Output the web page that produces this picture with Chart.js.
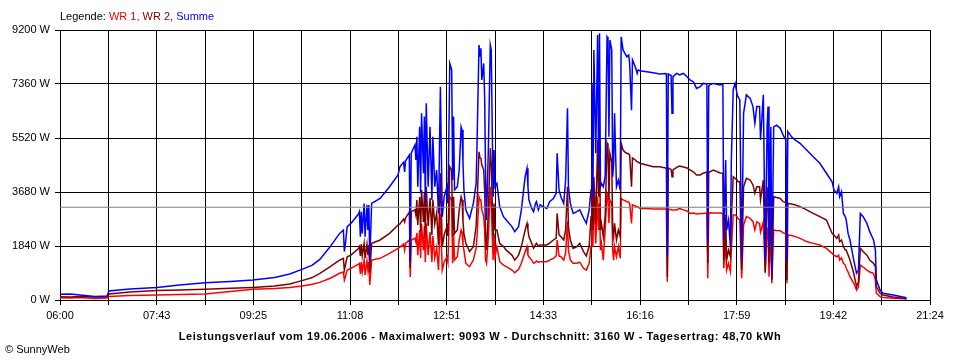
<!DOCTYPE html>
<html>
<head>
<meta charset="utf-8">
<script src="https://cdn.jsdelivr.net/npm/chart.js@4.4.0/dist/chart.umd.min.js"></script>
<style>
html,body{margin:0;padding:0;background:#fff;}
#wrap{position:relative;width:960px;height:360px;overflow:hidden;font-family:"Liberation Sans",Arial,sans-serif;color:#000;}
#c{position:absolute;left:0;top:0;}
#legend{position:absolute;left:60px;top:9px;font-size:11px;line-height:14px;white-space:nowrap;}
#footer{position:absolute;left:0;width:960px;top:329px;text-align:center;font-weight:bold;font-size:11px;line-height:14px;white-space:nowrap;letter-spacing:0.55px;}
#copy{position:absolute;left:5px;top:342px;font-size:11px;line-height:14px;white-space:nowrap;}
</style>
</head>
<body>
<div id="wrap">
<canvas id="c" width="960" height="360"></canvas>
<div id="legend">Legende: <span style="color:#ff0000">WR 1,</span> <span style="color:#800000">WR 2,</span> <span style="color:#0000ff">Summe</span></div>
<div id="footer">Leistungsverlauf vom 19.06.2006 - Maximalwert: 9093 W - Durchschnitt: 3160 W - Tagesertrag: 48,70 kWh</div>
<div id="copy">© SunnyWeb</div>
</div>
<script>
const tickLabels = ['06:00','07:43','09:25','11:08','12:51','14:33','16:16','17:59','19:42','21:24'];
const yTickValues = [0,1840,3680,5520,7360,9200];
const average = 3160;

const times = [
'06:00','06:11','06:21','06:37','06:50','06:52','07:14','07:43','08:07','08:34',
'09:01','09:25','09:48','10:04','10:17','10:28','10:36','10:47','10:57','11:01',
'11:02','11:03','11:05','11:09','11:17','11:18','11:19','11:20','11:21','11:23',
'11:24','11:26','11:27','11:28','11:29','11:31','11:40','11:50','11:59','12:01',
'12:05','12:06','12:07','12:11','12:12','12:13','12:17','12:18','12:19','12:20',
'12:22','12:23','12:24','12:26','12:27','12:28','12:29','12:31','12:33','12:35',
'12:36','12:38','12:40','12:42','12:44','12:46','12:48','12:51','12:52','12:54',
'12:56','12:57','12:58','12:59','13:02','13:04','13:06','13:07','13:08','13:09',
'13:11','13:15','13:19','13:22','13:23','13:25','13:26','13:27','13:28','13:30',
'13:31','13:32','13:33','13:35','13:37','13:38','13:40','13:41','13:42','13:44',
'13:47','13:51','13:54','14:00','14:03','14:07','14:10','14:14','14:16','14:17',
'14:18','14:21','14:23','14:25','14:26','14:28','14:30','14:33','14:37','14:40',
'14:44','14:47','14:48','14:50','14:52','14:55','14:57','14:59','15:00','15:02',
'15:05','15:09','15:12','15:16','15:19','15:22','15:24','15:25','15:26','15:27',
'15:29','15:31','15:32','15:33','15:34','15:35','15:37','15:39','15:41','15:42',
'15:43','15:44','15:46','15:47','15:48','15:49','15:51','15:53','15:55','15:56',
'15:58','16:00','16:02','16:04','16:05','16:07','16:08','16:11','16:13','16:14',
'16:16','16:23','16:30','16:37','16:43','16:44','16:45','16:46','16:49','16:50',
'16:51','16:55','16:58','17:02','17:06','17:09','17:13','17:16','17:20','17:23',
'17:27','17:28','17:29','17:30','17:34','17:41','17:44','17:45','17:47','17:48',
'17:50','17:52','17:53','17:55','17:57','17:59','18:00','18:02','18:04','18:06',
'18:09','18:13','18:16','18:18','18:20','18:23','18:24','18:27','18:29','18:31',
'18:32','18:33','18:35','18:36','18:38','18:41','18:45','18:48','18:51','18:52',
'18:53','18:57','19:01','19:06','19:13','19:20','19:27','19:34','19:40','19:42',
'19:45','19:47','19:48','19:50','19:52','19:54','19:55','19:57','19:59','20:03',
'20:06','20:08','20:10','20:13','20:17','20:20','20:24','20:26','20:27','20:31',
'20:34','20:45','20:59'
];

const summe = [
195,205,170,120,135,305,375,430,510,590,
630,680,765,885,1045,1190,1385,1820,2270,2385,
1650,1875,2500,2610,2930,3010,2160,3010,2270,3290,
2160,3240,2385,3240,1360,3290,3460,3860,4260,4540,
4700,4360,4740,4940,1295,5000,5280,4770,5560,3860,
5900,3635,6360,4320,6250,3290,6700,3860,5900,3410,
5560,3860,4430,2950,7270,2840,3520,3860,3290,8060,
7840,4090,6250,3750,3860,4430,5900,5790,4660,3750,
3070,2780,3290,3975,5450,8690,8290,8575,7500,8060,
6930,4200,2725,5220,8690,8520,3520,5110,3860,3975,
3180,2840,2725,2500,2330,2500,3070,4200,4490,3860,
3410,3120,3010,3290,3350,3070,3240,3180,3120,3350,
3460,3635,5000,3750,3520,3290,4090,6530,3860,3290,
2950,3010,3070,2795,2610,3070,3750,7380,3520,8520,
5000,9030,4540,9090,3860,3975,3860,4200,8970,8915,
5560,8860,8520,4200,4660,6360,3860,4090,3750,8970,
8520,8405,8290,8350,8060,6470,8180,7950,7720,7840,
7815,7780,7745,7700,7720,7700,1475,7700,7650,6360,
7610,7720,7670,7720,7610,7500,7430,7210,7270,7380,
7360,1930,7290,7330,7380,7330,7360,2045,4770,2385,
2725,1820,4770,7180,7380,7040,6930,6815,1360,6360,
6990,6870,6590,6020,6590,6590,5450,6990,1360,5900,
6590,1820,5900,795,5900,5960,5850,5620,5450,1360,
5740,5560,5450,5340,5110,4880,4660,4320,4030,3750,
3635,3860,3520,3690,2950,2840,2725,2270,2045,1360,
910,1020,2950,2840,2610,2330,2045,1700,680,340,
230,170,80
];

const wr2 = [
110,100,120,100,100,205,275,320,340,365,
400,430,475,545,660,765,910,1135,1360,1415,
1020,1160,1475,1530,1755,1820,1500,1905,1500,1930,
1430,1905,1530,1875,955,1930,2045,2270,2555,2590,
2760,2660,2795,3000,1090,3010,3070,2895,3410,2555,
3510,2315,3750,2660,3645,2160,3860,2520,3475,2215,
3410,2590,2965,1875,4320,1820,2215,2500,2180,4540,
4430,2160,3520,2270,2385,3070,3520,3410,2660,2270,
1930,1650,1820,2520,3305,5050,4840,4830,4600,4430,
3750,2160,1700,3070,5170,4660,2160,3290,2385,2385,
1930,1820,1700,1530,1360,1530,1820,2385,2610,2385,
2160,1930,1760,1875,1930,1840,1875,1875,1875,1940,
2045,2110,2950,2215,2160,2045,2385,3860,2500,2045,
1760,1820,1930,1650,1500,1820,2840,4540,2385,4200,
2610,5450,3520,5450,2385,2610,2160,2840,5340,5220,
3410,5000,4700,2385,2160,2610,2045,2385,2160,5340,
5110,5040,5000,4975,4940,3860,4840,4770,4710,4700,
4660,4600,4540,4540,4500,4500,795,4500,4450,4200,
4430,4520,4565,4530,4500,4430,4360,4260,4260,4320,
4360,1250,4330,4370,4430,4330,4320,1360,2895,1360,
1700,1475,2725,4200,4145,4090,4030,4030,1020,3860,
4145,4090,3920,3635,3860,3860,3410,4090,965,3520,
3860,1250,3520,680,3520,3490,3460,3350,3320,680,
3290,3270,3240,3180,3070,2950,2840,2725,2270,2215,
2100,2215,1990,2045,1820,1700,1700,1530,1360,910,
455,625,1760,1650,1530,1360,1250,1135,455,230,
170,100,45
];

const wr1 = [
80,70,85,50,70,120,155,170,185,205,
290,365,390,425,475,540,600,740,910,955,
680,785,1020,1075,1225,1250,885,1290,955,1360,
850,1330,1020,1290,510,1360,1420,1590,1760,1805,
1910,1700,1930,2045,785,2045,2100,1975,2285,1530,
2385,1430,2590,1700,2520,1290,2610,1530,2315,1290,
2180,1430,1770,1020,2950,1020,1290,1475,1290,3520,
3410,1250,2285,1360,1475,2045,2385,2315,1875,1700,
1250,1135,1360,1770,2215,3520,3410,3410,3070,2840,
2385,1360,1250,2160,3860,3290,1360,2270,1475,1820,
1305,1190,1135,1020,930,1045,1250,1645,1820,1530,
1475,1360,1250,1290,1330,1290,1305,1305,1305,1360,
1420,1500,2045,1500,1475,1360,1600,2670,1700,1360,
1250,1250,1290,1080,1020,1250,1820,3635,1820,3520,
1930,3520,2385,3290,1700,1930,1360,2385,3635,3520,
2625,3410,3300,1700,1360,1820,1475,1820,1420,3460,
3410,3385,3350,3340,3290,2610,3240,3205,3180,3170,
3120,3120,3100,3100,3100,3085,625,3085,3080,3070,
3070,3070,3120,3070,3035,2950,2965,2930,2950,2950,
2965,740,2965,2975,2965,2965,2950,1080,2045,1020,
1250,965,1700,2895,2895,2840,2780,2725,740,2555,
2840,2780,2670,2385,2660,2610,2315,2660,910,2385,
2455,795,2385,570,2385,2370,2360,2285,2250,570,
2215,2200,2160,2100,1990,1930,1875,1760,1590,1530,
1475,1530,1360,1430,1250,1190,1080,955,795,570,
340,445,1190,1125,1020,955,910,680,230,115,
85,60,45
];

// minutes after 06:00
function toMin(s){ const p = s.split(':').map(Number); return p[0]*60 + p[1] - 360; }
const startMin = toMin(tickLabels[0]);
const endMin = toMin(tickLabels[tickLabels.length-1]);
const gridCount = (tickLabels.length - 1) * 2;
const gridMinutes = [];
for (let i = 0; i <= gridCount; i++) gridMinutes.push(startMin + (endMin - startMin) * i / gridCount);

function series(vals){ return times.map((t,i) => ({x: toMin(t), y: vals[i]})); }

const font = {family: '"Liberation Sans", Arial, sans-serif', size: 11};

new Chart(document.getElementById('c'), {
  type: 'line',
  data: {
    datasets: [
      {label: 'Durchschnitt', data: [{x: startMin, y: average}, {x: endMin, y: average}], borderColor: '#808080', borderWidth: 1, pointRadius: 0},
      {label: 'Summe', data: series(summe), borderColor: '#0000ff', borderWidth: 1.5, pointRadius: 0},
      {label: 'WR 2', data: series(wr2), borderColor: '#800000', borderWidth: 1.5, pointRadius: 0},
      {label: 'WR 1', data: series(wr1), borderColor: '#ff0000', borderWidth: 1.5, pointRadius: 0}
    ]
  },
  options: {
    responsive: false,
    animation: false,
    events: [],
    layout: {padding: {top: 30, right: 30, left: 0, bottom: 0}},
    elements: {line: {tension: 0, fill: false}},
    plugins: {legend: {display: false}, tooltip: {enabled: false}},
    scales: {
      x: {
        type: 'linear', min: startMin, max: endMin,
        afterBuildTicks: s => { s.ticks = gridMinutes.map(v => ({value: v})); },
        afterFit: s => { s.height = 60; },
        ticks: {autoSkip: false, maxRotation: 0, minRotation: 0, padding: 4, color: '#000', font: font,
          callback: (v, i) => (i % 2 === 0 ? tickLabels[i / 2] : '')},
        grid: {color: '#000', lineWidth: 1, tickLength: 5, tickColor: '#000', drawTicks: true},
        border: {color: '#000', width: 1}
      },
      y: {
        min: yTickValues[0], max: yTickValues[yTickValues.length-1],
        afterBuildTicks: s => { s.ticks = yTickValues.map(v => ({value: v})); },
        afterFit: s => { s.width = 60; },
        ticks: {padding: 5, color: '#000', font: font, callback: v => v + ' W'},
        grid: {color: '#000', lineWidth: 1, tickLength: 5, tickColor: '#000', drawTicks: true},
        border: {color: '#000', width: 1}
      }
    }
  }
});
</script>
</body>
</html>
